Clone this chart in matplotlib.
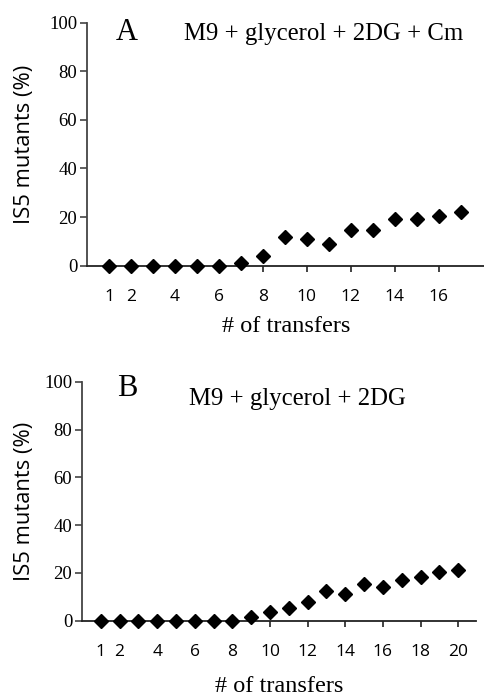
import matplotlib
matplotlib.use('Agg')
import matplotlib.pyplot as plt

W, H = 485, 697

# panel A: M9 + glycerol + 2DG + Cm
transfersA = list(range(1, 18))
mutantsA = [0, 0, 0, 0, 0, 0, 1, 4, 12, 10.8, 9, 14.7, 14.7, 19.2, 19.2, 20.4, 22.1]
ticksA = [1, 2, 4, 6, 8, 10, 12, 14, 16]

# panel B: M9 + glycerol + 2DG
transfersB = list(range(1, 21))
mutantsB = [0, 0, 0, 0, 0, 0, 0, 0, 1.4, 3.5, 5.2, 7.9, 12.6, 11.2, 15.3, 14.2, 17.0, 18.1, 20.5, 21.2]
ticksB = [1, 2, 4, 6, 8, 10, 12, 14, 16, 18, 20]

yticks = [0, 20, 40, 60, 80, 100]

serif = 'Liberation Serif'
sans = 'Open Sans'

fig = plt.figure(figsize=(W / 100, H / 100), dpi=100)


def px(x0, y0, x1, y1):
    # pixel box -> figure fraction [left, bottom, width, height]
    return [x0 / W, 1 - y1 / H, (x1 - x0) / W, (y1 - y0) / H]


def panel(rect, x, y, ticks, xmax, letter, cond, letter_xy, cond_xy, xlabel_y):
    ax = fig.add_axes(px(*rect))
    ax.plot(x, y, linestyle='none', marker='D', markersize=7.2,
            color='black', clip_on=False, zorder=3)
    ax.set_xlim(0, xmax)
    ax.set_ylim(0, 100)
    ax.set_xticks(ticks)
    ax.set_yticks(yticks)
    for s in ['top', 'right']:
        ax.spines[s].set_visible(False)
    ax.spines['left'].set_color('#444444')
    ax.spines['bottom'].set_color('#222222')
    ax.spines['left'].set_linewidth(1.3)
    ax.spines['bottom'].set_linewidth(1.3)
    ax.tick_params(axis='x', direction='out', length=4, width=1.2, pad=13,
                   colors='#222222', labelcolor='black')
    ax.tick_params(axis='y', direction='out', length=5, width=1.2, pad=2,
                   colors='#444444', labelcolor='black')
    for lab in ax.get_xticklabels():
        lab.set_fontfamily(sans)
        lab.set_fontsize(12.5)
    for lab in ax.get_yticklabels():
        lab.set_fontfamily(serif)
        lab.set_fontsize(13.5)
    fig.text(letter_xy[0] / W, 1 - letter_xy[1] / H, letter, family=serif,
             fontsize=22, ha='center', va='center')
    fig.text(cond_xy[0] / W, 1 - cond_xy[1] / H, cond, family=serif,
             fontsize=17.8, ha='center', va='center')
    fig.text(25 / W, 1 - (rect[1] + rect[3]) / 2 / H, 'IS5 mutants (%)',
             family=sans, fontsize=15.8, rotation=90, ha='center', va='center')
    fig.text((rect[0] + rect[2]) / 2 / W, 1 - xlabel_y / H, '# of transfers',
             family=serif, fontsize=17.5, ha='center', va='center')
    return ax


panel((87, 22.7, 485, 265.7), transfersA, mutantsA, ticksA, 18.1,
      'A', 'M9 + glycerol + 2DG + Cm', (127, 33), (324, 34), 326)
panel((82, 381.7, 476, 620.7), transfersB, mutantsB, ticksB, 20.95,
      'B', 'M9 + glycerol + 2DG', (127, 388), (297, 399), 686)

fig.savefig('out.png', dpi=100)
